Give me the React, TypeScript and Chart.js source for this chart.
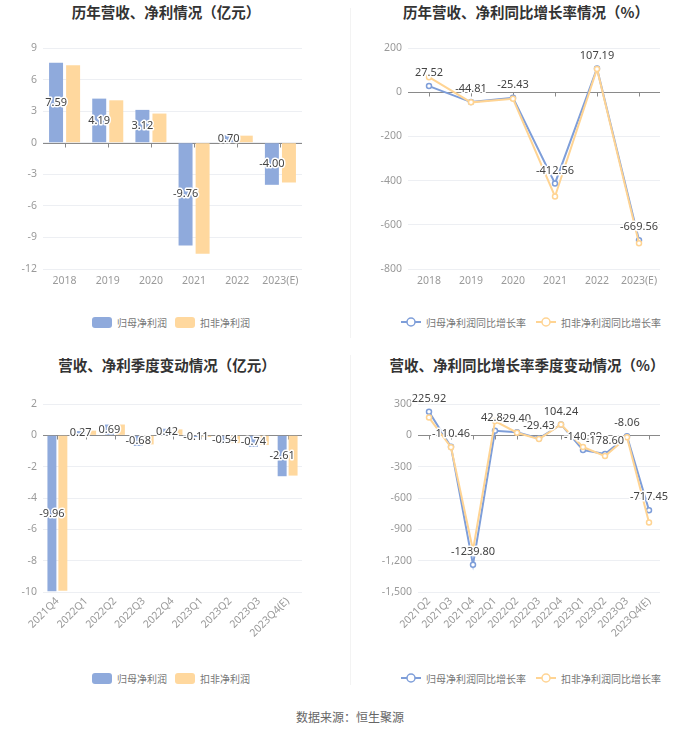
import React, { useEffect, useRef } from "react";
import { Chart, registerables } from "chart.js";
Chart.register(...registerables);

// ---------- data ----------
const yearCats = ["2018", "2019", "2020", "2021", "2022", "2023(E)"];
const annualParent = [7.59, 4.19, 3.12, -9.76, 0.7, -4.0];
const annualDeducted = [7.35, 4.03, 2.77, -10.55, 0.67, -3.78];
const annualParentGrowth = [27.52, -44.81, -25.43, -412.56, 107.19, -669.56];
const annualDeductedGrowth = [68, -46, -30, -472, 105, -683];

const quarterCats = ["2021Q4", "2022Q1", "2022Q2", "2022Q3", "2022Q4", "2023Q1", "2023Q2", "2023Q3", "2023Q4(E)"];
const quarterParent = [-9.96, 0.27, 0.69, -0.68, 0.42, -0.11, -0.54, -0.74, -2.61];
const quarterDeducted = [-9.92, 0.3, 0.69, -0.58, 0.38, -0.1, -0.5, -0.62, -2.57];

const growthQuarterCats = ["2021Q2", "2021Q3", "2021Q4", "2022Q1", "2022Q2", "2022Q3", "2022Q4", "2023Q1", "2023Q2", "2023Q3", "2023Q4(E)"];
const quarterParentGrowth = [225.92, -110.46, -1239.8, 42.84, 29.4, -29.43, 104.24, -140.89, -178.6, -8.06, -717.45];
const quarterDeductedGrowth = [170, -114, -1100, 137, 25, -36, 104, -112, -199, -18, -835];

const seriesNames = ["归母净利润", "扣非净利润"];
const growthNames = ["归母净利润同比增长率", "扣非净利润同比增长率"];

// ---------- styles ----------
const BLUE = "#8FAADC";
const ORANGE = "#FFD89E";
const BLUE_LINE = "#7E9ED9";
const ORANGE_LINE = "#FFD493";
const AXIS_COLOR = "#9a9a9a";
const FONT = '"Noto Sans", "Noto Sans CJK SC", sans-serif';
const CJK = '"Noto Sans CJK SC", "Noto Sans", sans-serif';

const valueLabelPlugin = {
  id: "valueLabels",
  afterDatasetsDraw(chart: any, _args: any, opts: any) {
    if (!opts || !opts.mode) return;
    const meta = chart.getDatasetMeta(0);
    const data = chart.data.datasets[0].data as number[];
    const ctx = chart.ctx;
    ctx.save();
    ctx.font = `11px ${FONT}`;
    ctx.textAlign = "center";
    ctx.textBaseline = "middle";
    ctx.lineJoin = "round";
    meta.data.forEach((el: any, i: number) => {
      const txt = Number(data[i]).toFixed(2);
      const x = el.x;
      const y = opts.mode === "bar" ? (el.y + el.base) / 2 : el.y - 13;
      ctx.strokeStyle = "#fff";
      ctx.lineWidth = 3;
      ctx.strokeText(txt, x, y);
      ctx.fillStyle = "#444";
      ctx.fillText(txt, x, y);
    });
    ctx.restore();
  },
};

const zeroAxisPlugin = {
  id: "zeroAxis",
  beforeDatasetsDraw(chart: any) {
    const { ctx, chartArea, scales } = chart;
    const y = Math.round(scales.y.getPixelForValue(0)) + 0.5;
    ctx.save();
    ctx.strokeStyle = "#8a8a8a";
    ctx.lineWidth = 1;
    ctx.beginPath();
    ctx.moveTo(chartArea.left, y);
    ctx.lineTo(chartArea.right, y);
    const n = chart.data.labels.length;
    for (let i = 0; i < n; i++) {
      const x = Math.round(scales.x.getPixelForValue(i)) + 0.5;
      ctx.moveTo(x, y);
      ctx.lineTo(x, y + 4);
    }
    ctx.stroke();
    ctx.restore();
  },
};

type PanelCfg = {
  type: "bar" | "line";
  labels: string[];
  a: number[];
  b: number[];
  names: string[];
  min: number;
  max: number;
  step: number;
  yWidth: number;
  padRight: number;
  padTop: number;
  padBottom: number;
  xHeight: number;
  rotate: boolean;
  catPct?: number;
  comma?: boolean;
};

function ChartPanel({ cfg, left, top, width, height }: { cfg: PanelCfg; left: number; top: number; width: number; height: number }) {
  const ref = useRef<HTMLCanvasElement | null>(null);
  useEffect(() => {
    if (!ref.current) return;
    const isBar = cfg.type === "bar";
    const datasets: any[] = isBar
      ? [
          { label: cfg.names[0], data: cfg.a, backgroundColor: BLUE, categoryPercentage: cfg.catPct ?? 0.79, barPercentage: 0.82 },
          { label: cfg.names[1], data: cfg.b, backgroundColor: ORANGE, categoryPercentage: cfg.catPct ?? 0.79, barPercentage: 0.82 },
        ]
      : [
          {
            label: cfg.names[0], data: cfg.a, borderColor: BLUE_LINE, backgroundColor: "#fff",
            borderWidth: 2, pointRadius: 2.5, pointBorderWidth: 1.5, pointBackgroundColor: "#fff",
            pointBorderColor: BLUE_LINE, tension: 0, order: 1,
          },
          {
            label: cfg.names[1], data: cfg.b, borderColor: ORANGE_LINE, backgroundColor: "#fff",
            borderWidth: 2, pointRadius: 2.5, pointBorderWidth: 1.5, pointBackgroundColor: "#fff",
            pointBorderColor: ORANGE_LINE, tension: 0, order: 0,
          },
        ];
    const chart = new Chart(ref.current, {
      type: cfg.type,
      data: { labels: cfg.labels, datasets },
      options: {
        responsive: false,
        animation: false,
        layout: { padding: { left: 0, right: cfg.padRight, top: cfg.padTop, bottom: cfg.padBottom } },
        plugins: {
          legend: { display: false },
          title: { display: false },
          tooltip: { enabled: false },
          valueLabels: { mode: cfg.type },
        } as any,
        scales: {
          x: {
            offset: true,
            grid: { display: false, drawTicks: false },
            border: { display: false },
            ticks: {
              color: AXIS_COLOR,
              font: { size: 10.5, family: FONT },
              padding: cfg.rotate ? 3 : 6,
              autoSkip: false,
              maxRotation: cfg.rotate ? 45 : 0,
              minRotation: cfg.rotate ? 45 : 0,
            },
            afterFit: (s: any) => { s.height = cfg.xHeight; },
          },
          y: {
            min: cfg.min,
            max: cfg.max,
            grid: { color: "#EDEFF3", drawTicks: false, lineWidth: 1 },
            border: { display: false },
            ticks: {
              stepSize: cfg.step,
              color: AXIS_COLOR,
              font: { size: 10.5, family: FONT },
              padding: 6,
              callback: (v: any) => (cfg.comma ? Number(v).toLocaleString("en-US") : String(v)),
            },
            afterFit: (s: any) => { s.width = cfg.yWidth; },
          },
        },
      } as any,
      plugins: [zeroAxisPlugin, valueLabelPlugin],
    });
    return () => chart.destroy();
  }, []);
  return (
    <canvas
      ref={ref}
      width={width}
      height={height}
      style={{ position: "absolute", left, top, width, height }}
    />
  );
}

function Title({ text, cx, cy }: { text: string; cx: number; cy: number }) {
  return (
    <div
      style={{
        position: "absolute", left: cx - 200, top: cy - 10, width: 400, height: 20, lineHeight: "20px",
        textAlign: "center", fontFamily: CJK, fontWeight: 700, fontSize: 14.5, color: "#333", whiteSpace: "nowrap",
      }}
    >
      {text}
    </div>
  );
}

function BarLegend({ cx, cy }: { cx: number; cy: number }) {
  const item = (color: string, name: string) => (
    <div style={{ display: "flex", alignItems: "center", margin: "0 4px" }}>
      <div style={{ width: 20, height: 11, borderRadius: 3, background: color, marginRight: 5 }} />
      <span style={{ fontSize: 10, color: "#777" }}>{name}</span>
    </div>
  );
  return (
    <div
      style={{
        position: "absolute", left: cx - 200, top: cy - 8, width: 400, height: 16, display: "flex",
        justifyContent: "center", alignItems: "center", fontFamily: CJK,
      }}
    >
      {item(BLUE, seriesNames[0])}
      {item(ORANGE, seriesNames[1])}
    </div>
  );
}

function LineLegend({ cx, cy }: { cx: number; cy: number }) {
  const item = (color: string, name: string) => (
    <div style={{ display: "flex", alignItems: "center", margin: "0 5px" }}>
      <svg width={20} height={12} style={{ marginRight: 5 }}>
        <line x1={0} y1={6} x2={20} y2={6} stroke={color} strokeWidth={2} />
        <circle cx={10} cy={6} r={4} fill="#fff" stroke={color} strokeWidth={1.5} />
      </svg>
      <span style={{ fontSize: 10, color: "#777" }}>{name}</span>
    </div>
  );
  return (
    <div
      style={{
        position: "absolute", left: cx - 200, top: cy - 8, width: 400, height: 16, display: "flex",
        justifyContent: "center", alignItems: "center", fontFamily: CJK,
      }}
    >
      {item(BLUE_LINE, growthNames[0])}
      {item(ORANGE_LINE, growthNames[1])}
    </div>
  );
}

export default function App() {
  const annualBar: PanelCfg = {
    type: "bar", labels: yearCats, a: annualParent, b: annualDeducted, names: seriesNames,
    min: -12, max: 9, step: 3, yWidth: 43, padRight: 48, padTop: 48, padBottom: 9, xHeight: 22, rotate: false,
  };
  const annualLine: PanelCfg = {
    type: "line", labels: yearCats, a: annualParentGrowth, b: annualDeductedGrowth, names: growthNames,
    min: -800, max: 200, step: 200, yWidth: 58, padRight: 40, padTop: 48, padBottom: 9, xHeight: 22, rotate: false,
  };
  const quarterBar: PanelCfg = {
    type: "bar", labels: quarterCats, a: quarterParent, b: quarterDeducted, names: seriesNames,
    min: -10, max: 2, step: 2, yWidth: 43, padRight: 48, padTop: 54, padBottom: 8, xHeight: 60, rotate: true, catPct: 0.76,
  };
  const quarterLine: PanelCfg = {
    type: "line", labels: growthQuarterCats, a: quarterParentGrowth, b: quarterDeductedGrowth, names: growthNames,
    min: -1500, max: 300, step: 300, yWidth: 68, padRight: 40, padTop: 54, padBottom: 8, xHeight: 60, rotate: true, comma: true,
  };
  return (
    <div style={{ position: "absolute", left: 0, top: 0, width: 700, height: 733, background: "#fff", overflow: "hidden" }}>
      <div style={{ position: "absolute", left: 350, top: 8, width: 1, height: 330, background: "#f3f3f3" }} />
      <div style={{ position: "absolute", left: 350, top: 355, width: 1, height: 330, background: "#f3f3f3" }} />
      <Title text="历年营收、净利情况（亿元）" cx={166} cy={12} />
      <Title text="历年营收、净利同比增长率情况（%）" cx={526} cy={12} />
      <Title text="营收、净利季度变动情况（亿元）" cx={167} cy={365} />
      <Title text="营收、净利同比增长率季度变动情况（%）" cx={527} cy={365} />
      <ChartPanel cfg={annualBar} left={0} top={0} width={350} height={300} />
      <ChartPanel cfg={annualLine} left={350} top={0} width={350} height={300} />
      <ChartPanel cfg={quarterBar} left={0} top={350} width={350} height={310} />
      <ChartPanel cfg={quarterLine} left={350} top={350} width={350} height={310} />
      <BarLegend cx={171} cy={322} />
      <LineLegend cx={531} cy={322} />
      <BarLegend cx={171} cy={678} />
      <LineLegend cx={531} cy={678} />
      <div
        style={{
          position: "absolute", left: 250, top: 709, width: 200, height: 16, lineHeight: "16px", textAlign: "center",
          fontFamily: CJK, fontSize: 12, color: "#666",
        }}
      >
        数据来源：恒生聚源
      </div>
    </div>
  );
}
